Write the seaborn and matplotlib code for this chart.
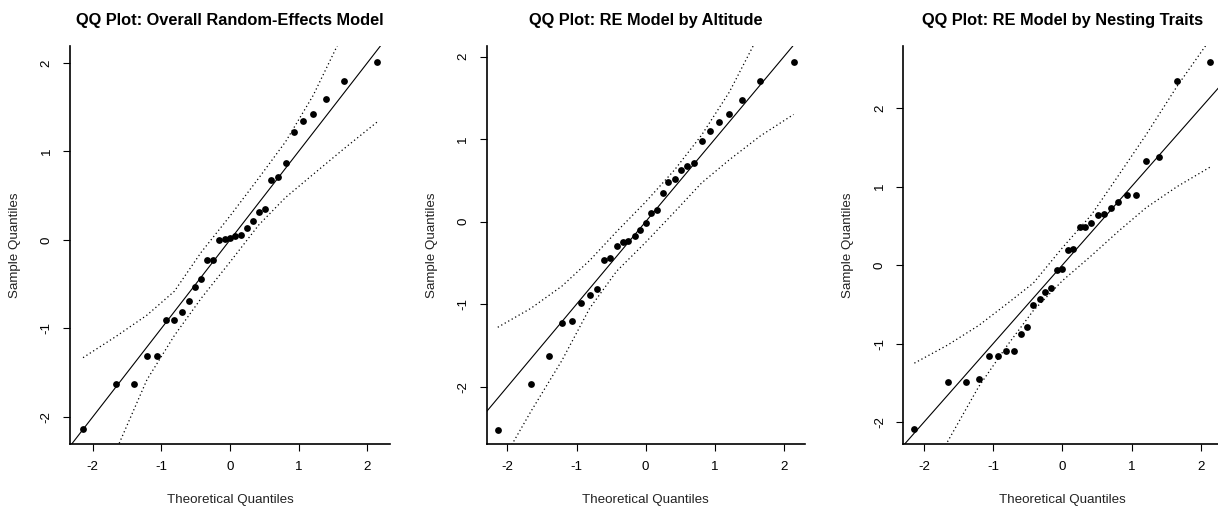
import matplotlib
matplotlib.use("Agg")
import matplotlib.pyplot as plt
import seaborn as sns
import pandas as pd

sns.set_theme(style="ticks")
plt.rcParams["font.family"] = ["Liberation Sans", "DejaVu Sans"]

# theoretical normal quantiles (31 studies) shared by all three panels
theo_q = [-2.14, -1.66, -1.40, -1.21, -1.06, -0.93, -0.81, -0.70, -0.60, -0.51,
          -0.42, -0.33, -0.25, -0.16, -0.08, 0.00, 0.08, 0.16, 0.25, 0.33,
          0.42, 0.51, 0.60, 0.70, 0.81, 0.93, 1.06, 1.21, 1.40, 1.66, 2.14]

# sorted standardized residuals
overall_y = [-2.14, -1.63, -1.63, -1.31, -1.31, -0.91, -0.91, -0.81, -0.69, -0.53,
             -0.44, -0.23, -0.23, 0.00, 0.01, 0.02, 0.04, 0.05, 0.13, 0.21,
             0.31, 0.35, 0.68, 0.71, 0.87, 1.22, 1.34, 1.42, 1.59, 1.79, 2.01]
altitude_y = [-2.52, -1.97, -1.63, -1.23, -1.20, -0.99, -0.89, -0.81, -0.46, -0.44,
              -0.29, -0.245, -0.24, -0.17, -0.10, -0.01, 0.11, 0.14, 0.35, 0.485,
              0.52, 0.63, 0.67, 0.715, 0.98, 1.095, 1.21, 1.305, 1.48, 1.70, 1.94]
nesting_y = [-2.09, -1.49, -1.49, -1.456, -1.155, -1.155, -1.095, -1.095, -0.875, -0.79,
             -0.505, -0.43, -0.35, -0.29, -0.06, -0.05, 0.19, 0.20, 0.49, 0.49,
             0.53, 0.64, 0.65, 0.73, 0.80, 0.89, 0.89, 1.32, 1.38, 2.35, 2.59]

# pseudo confidence envelope (dotted), read at these quantiles
env_x = [-2.14, -1.66, -1.21, -0.81, -0.42, 0.0, 0.42, 0.81, 1.21, 1.66, 2.14]
overall_up = [-1.33, -1.09, -0.85, -0.58, -0.14, 0.27, 0.70, 1.11, 1.63, 2.35, 3.10]
overall_lo = [-3.00, -2.38, -1.58, -1.08, -0.66, -0.25, 0.17, 0.48, 0.74, 1.03, 1.33]
altitude_up = [-1.28, -1.05, -0.78, -0.47, -0.12, 0.24, 0.63, 1.05, 1.57, 2.30, 3.00]
altitude_lo = [-3.00, -2.30, -1.68, -1.05, -0.60, -0.25, 0.12, 0.47, 0.75, 1.04, 1.30]
nesting_up = [-1.25, -1.02, -0.77, -0.50, -0.23, 0.22, 0.64, 1.14, 1.66, 2.28, 2.88]
nesting_lo = [-2.95, -2.25, -1.55, -1.04, -0.58, -0.20, 0.12, 0.43, 0.73, 1.00, 1.25]

titles = ["QQ Plot: Overall Random-Effects Model",
          "QQ Plot: RE Model by Altitude",
          "QQ Plot: RE Model by Nesting Traits"]

W, H = 1218, 513
fig = plt.figure(figsize=(W / 100, H / 100), dpi=100)

panels = [
    # (left px, right px, xlim, ylim, sample, upper, lower)
    (70, 390, (-2.33, 2.33), (-2.305, 2.19), overall_y, overall_up, overall_lo),
    (486.7, 804.6, (-2.30, 2.30), (-2.695, 2.13), altitude_y, altitude_up, altitude_lo),
    (903.3, 1221.5, (-2.30, 2.30), (-2.28, 2.79), nesting_y, nesting_up, nesting_lo),
]
top_px, bottom_px = 46, 444

for (left, right, xlim, ylim, sample, up, lo), title in zip(panels, titles):
    ax = fig.add_axes([left / W, (H - bottom_px) / H, (right - left) / W,
                       (bottom_px - top_px) / H])
    ax.set_facecolor("white")

    df = pd.DataFrame({"theo": theo_q, "sample": sample})
    env = pd.DataFrame({"x": env_x, "up": up, "lo": lo})

    ax.axline((0, 0), slope=1, color="black", lw=0.8)
    sns.lineplot(data=env, x="x", y="up", ax=ax, color="black", lw=0.9,
                 linestyle=(0, (1, 2.2)), sort=False)
    sns.lineplot(data=env, x="x", y="lo", ax=ax, color="black", lw=0.9,
                 linestyle=(0, (1, 2.2)), sort=False)
    sns.scatterplot(data=df, x="theo", y="sample", ax=ax, color="black", s=24,
                    edgecolor="black", linewidth=0)

    ax.set_xlim(*xlim)
    ax.set_ylim(*ylim)
    ax.set_xticks([-2, -1, 0, 1, 2])
    ax.set_yticks([-2, -1, 0, 1, 2])
    ax.set_xticklabels(["-2", "-1", "0", "1", "2"])
    ax.set_yticklabels(["-2", "-1", "0", "1", "2"])

    sns.despine(ax=ax)
    for s in ["left", "bottom"]:
        ax.spines[s].set_linewidth(1.2)
        ax.spines[s].set_color("black")
    ax.tick_params(axis="both", direction="out", length=5, width=0.8,
                   colors="black", labelsize=9.6, pad=7.5)
    ax.tick_params(axis="y", labelrotation=90)
    for lab in ax.get_yticklabels():
        lab.set_va("center")

    ax.set_title(title, fontsize=11.8, fontweight="bold", pad=15, color="black")
    ax.set_xlabel("Theoretical Quantiles", fontsize=9.6, va="center", color="#222222")
    ax.set_ylabel("Sample Quantiles", fontsize=9.6, va="center", color="#222222")
    ax.xaxis.set_label_coords(0.5, -(500 - bottom_px) / (bottom_px - top_px))
    ax.yaxis.set_label_coords(-55 / (right - left), 0.5)

fig.savefig("out.png", dpi=100, facecolor="white")
